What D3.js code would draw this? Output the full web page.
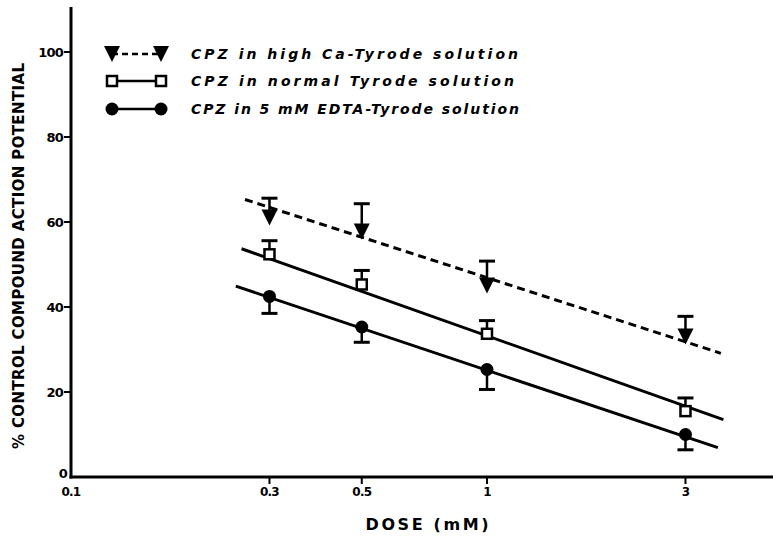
<!DOCTYPE html>
<html>
<head>
<meta charset="utf-8">
<script src="https://cdn.jsdelivr.net/npm/d3@7"></script>
<style>
  html, body { margin: 0; padding: 0; background: #fff; }
  svg { display: block; }
  text { font-family: "DejaVu Sans", "Liberation Sans", Arial, sans-serif; fill: #000; }
</style>
</head>
<body>
<div id="chart"></div>
<script>
// ---- data ----
const doses = [0.3, 0.5, 1, 3];
const xTicks = [0.1, 0.3, 0.5, 1, 3];
const xTickLabels = ['0.1', '0.3', '0.5', '1', '3'];
const yTicks = [0, 20, 40, 60, 80, 100];

const highCaMean = [61.3, 58.0, 45.3, 33.3];
const highCaErr = [4.3, 6.3, 5.5, 4.5];      // upper bars only
const normalMean = [52.4, 45.3, 33.7, 15.5];
const normalErr = [3.2, 3.3, 3.1, 3.1];      // upper bars only
const edtaMean = [42.5, 35.3, 25.3, 10.0];
const edtaErr = [4.0, 3.6, 4.7, 3.6];        // lower bars only

// fitted regression lines: [start dose, end dose], [start %, end %]
const highCaFitDose = [0.262, 3.65];
const highCaFitVal = [65.3, 29.1];
const normalFitDose = [0.257, 3.70];
const normalFitVal = [53.7, 13.5];
const edtaFitDose = [0.249, 3.59];
const edtaFitVal = [44.9, 6.9];

const legendLabels = [
  'CPZ in high  Ca-Tyrode solution',
  'CPZ in normal Tyrode solution',
  'CPZ in 5 mM EDTA-Tyrode solution'
];

// ---- layout ----
const W = 773, H = 540;
const x0 = 71, y0 = 477;

const svg = d3.select('#chart').append('svg')
  .attr('width', W)
  .attr('height', H);

const x = d3.scaleLog().domain([0.1, 4.87]).range([x0, W]);
const y = d3.scaleLinear().domain([0, 100]).range([y0, 52]);

// axes
svg.append('line')
  .attr('x1', x0).attr('y1', y0 + 1.5)
  .attr('x2', x0).attr('y2', 7)
  .attr('stroke', '#000').attr('stroke-width', 3);
svg.append('line')
  .attr('x1', x0 - 1.5).attr('y1', y0)
  .attr('x2', W).attr('y2', y0)
  .attr('stroke', '#000').attr('stroke-width', 3);

// y ticks
const yT = svg.append('g');
yT.selectAll('line').data(yTicks.filter(d => d > 0)).join('line')
  .attr('x1', x0 - 7).attr('x2', x0)
  .attr('y1', d => y(d)).attr('y2', d => y(d))
  .attr('stroke', '#000').attr('stroke-width', 2);
yT.selectAll('text').data(yTicks).join('text')
  .attr('x', d => d === 0 ? x0 - 4 : x0 - 8)
  .attr('y', d => y(d))
  .attr('dy', d => d === 0 ? '0.1em' : '0.35em')
  .attr('text-anchor', 'end')
  .attr('font-size', 13)
  .attr('font-weight', 'bold')
  .attr('letter-spacing', -0.8)
  .text(d => d);

// x ticks
const xT = svg.append('g');
xT.selectAll('line').data(xTicks.filter(d => d > 0.1)).join('line')
  .attr('x1', d => x(d)).attr('x2', d => x(d))
  .attr('y1', y0).attr('y2', y0 + 7)
  .attr('stroke', '#000').attr('stroke-width', 2);
xT.selectAll('text').data(xTicks).join('text')
  .attr('x', d => x(d))
  .attr('y', y0 + 19)
  .attr('text-anchor', 'middle')
  .attr('font-size', 12)
  .attr('font-weight', 'bold')
  .attr('letter-spacing', -0.8)
  .text((d, i) => xTickLabels[i]);

// axis titles
svg.append('text')
  .attr('x', 427).attr('y', 530)
  .attr('text-anchor', 'middle')
  .attr('font-size', 16)
  .attr('font-weight', 'bold')
  .attr('textLength', 123)
  .attr('lengthAdjust', 'spacing')
  .text('DOSE  (mM)');

svg.append('text')
  .attr('transform', 'translate(24,256) rotate(-90)')
  .attr('text-anchor', 'middle')
  .attr('font-size', 15)
  .attr('font-weight', 'bold')
  .attr('textLength', 386)
  .attr('lengthAdjust', 'spacing')
  .text('% CONTROL COMPOUND ACTION POTENTIAL');

// ---- fit lines ----
function fitLine(doseArr, valArr, dashed) {
  svg.append('line')
    .attr('x1', x(doseArr[0])).attr('y1', y(valArr[0]))
    .attr('x2', x(doseArr[1])).attr('y2', y(valArr[1]))
    .attr('stroke', '#000')
    .attr('stroke-width', 3)
    .attr('stroke-dasharray', dashed ? '8,5' : null);
}
fitLine(highCaFitDose, highCaFitVal, true);
fitLine(normalFitDose, normalFitVal, false);
fitLine(edtaFitDose, edtaFitVal, false);

// ---- error bars ----
function errBars(mean, err, dir) {
  const g = svg.append('g');
  doses.forEach((d, i) => {
    const cx = x(d);
    const yEnd = y(mean[i] + dir * err[i]);
    g.append('line')
      .attr('x1', cx).attr('x2', cx)
      .attr('y1', y(mean[i])).attr('y2', yEnd)
      .attr('stroke', '#000').attr('stroke-width', 2.5);
    g.append('line')
      .attr('x1', cx - 8).attr('x2', cx + 8)
      .attr('y1', yEnd).attr('y2', yEnd)
      .attr('stroke', '#000').attr('stroke-width', 3);
  });
}
errBars(highCaMean, highCaErr, 1);
errBars(normalMean, normalErr, 1);
errBars(edtaMean, edtaErr, -1);

// ---- markers ----
function triangle(g, cx, cy) {
  g.append('path')
    .attr('d', `M${cx - 8},${cy - 7}L${cx + 8},${cy - 7}L${cx},${cy + 9}Z`)
    .attr('fill', '#000');
}
function square(g, cx, cy) {
  g.append('rect')
    .attr('x', cx - 5).attr('y', cy - 5)
    .attr('width', 10).attr('height', 10)
    .attr('fill', '#fff')
    .attr('stroke', '#000').attr('stroke-width', 2.5);
}
function dot(g, cx, cy) {
  g.append('circle')
    .attr('cx', cx).attr('cy', cy).attr('r', 6.5)
    .attr('fill', '#000');
}

const markers = svg.append('g');
doses.forEach((d, i) => {
  triangle(markers, x(d), y(highCaMean[i]));
  square(markers, x(d), y(normalMean[i]));
  dot(markers, x(d), y(edtaMean[i]));
});

// ---- legend ----
const legend = svg.append('g');
const legRows = [54, 81, 109];
const legX1 = 112, legX2 = 161;
const drawers = [triangle, square, dot];
legRows.forEach((ly, i) => {
  legend.append('line')
    .attr('x1', legX1).attr('x2', legX2)
    .attr('y1', ly).attr('y2', ly)
    .attr('stroke', '#000')
    .attr('stroke-width', 2.5)
    .attr('stroke-dasharray', i === 0 ? '6,4' : null);
  const off = i === 0 ? -1 : 0;
  drawers[i](legend, legX1, ly + off);
  drawers[i](legend, legX2, ly + off);
  legend.append('text')
    .attr('x', 191).attr('y', ly)
    .attr('dy', '0.35em')
    .attr('font-size', 14)
    .attr('font-weight', 'bold')
    .attr('font-style', 'italic')
    .attr('textLength', [327, 323, 328][i])
    .attr('lengthAdjust', 'spacing')
    .text(legendLabels[i]);
});
</script>
</body>
</html>
